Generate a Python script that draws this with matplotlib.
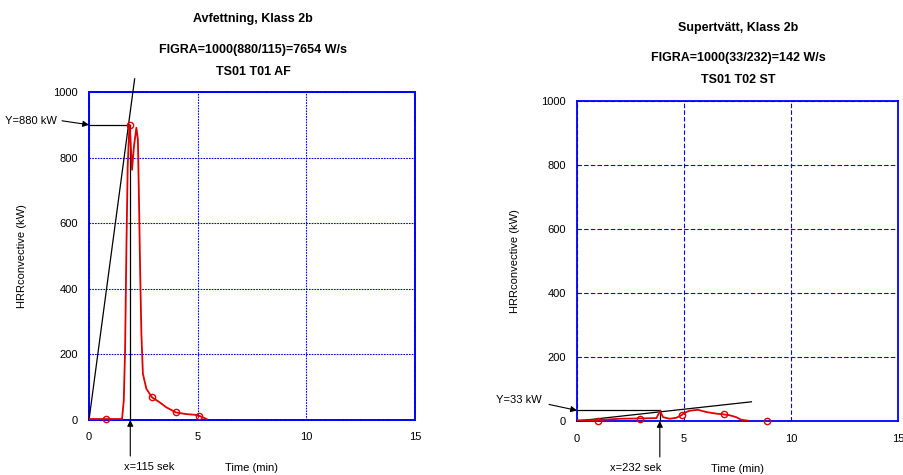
import matplotlib
matplotlib.use("Agg")
import matplotlib.pyplot as plt

plt.rcParams['font.family'] = ['Liberation Sans', 'DejaVu Sans']

# ---------------- data ----------------
# Left: Avfettning
left_t = [0.0, 0.5, 1.0, 1.52, 1.60, 1.66, 1.72, 1.78, 1.86, 1.90, 1.98, 2.07, 2.18, 2.25,
          2.30, 2.35, 2.41, 2.48, 2.64, 2.90, 3.25, 3.55, 4.0, 4.47, 4.85, 5.1, 5.41]
left_v = [3, 3, 3, 3, 59, 212, 518, 773, 900, 865, 763, 835, 891, 855,
          671, 467, 263, 141, 95, 69, 54, 39, 23, 18, 16, 12, 3]
left_mt = [0.78, 1.87, 2.90, 4.0, 5.08]
left_mv = [3, 900, 69, 23, 13]
left_peak_t = 1.90
left_peak_v = 900
left_line_end = (2.10, 1040)

# Right: Supertvätt
right_t = [0.0, 0.96, 2.0, 2.9, 3.71, 3.88, 4.02, 4.33, 4.64, 4.88, 5.03, 5.26, 5.65,
           6.04, 6.51, 6.81, 7.13, 7.44, 7.67, 7.98]
right_v = [2, 3, 7, 8, 9, 31, 12, 7, 10, 18, 26, 32, 35,
           28, 23, 21, 18, 12, 4, 1]
right_mt = [0.97, 2.93, 4.90, 6.85, 8.87]
right_mv = [1, 7, 18, 21, 0]
right_peak_t = 3.87
right_peak_v = 33
right_line_end = (8.15, 60)

xticks = [0, 5, 10, 15]
yticks = [0, 200, 400, 600, 800, 1000]

titles = [["Avfettning, Klass 2b", "FIGRA=1000(880/115)=7654 W/s", "TS01 T01 AF"],
          ["Supertvätt, Klass 2b", "FIGRA=1000(33/232)=142 W/s", "TS01 T02 ST"]]
ylabels = ["Y=880 kW", "Y=33 kW"]
xlabels = ["x=115 sek", "x=232 sek"]

W, H = 904, 475
fig = plt.figure(figsize=(W / 100, H / 100), dpi=100)

BLUE = '#0000FF'
RED = '#E00000'

def px_axes(l, r, t, b):
    return [l / W, 1 - b / H, (r - l) / W, (b - t) / H]

axL = fig.add_axes(px_axes(89, 415, 92, 420))
axR = fig.add_axes(px_axes(577, 898, 101, 421))


def style(ax, dotted):
    ax.set_xlim(0, 15)
    ax.set_ylim(0, 1000)
    ax.set_xticks(xticks)
    ax.set_yticks(yticks)
    ax.tick_params(length=0, labelsize=8)
    ax.tick_params(axis='x', pad=9)
    ax.tick_params(axis='y', pad=8)
    if dotted:
        ls_grid = (0, (1.5, 1))
        ls_sp = (0, (1.5, 0.8))
        lw_sp = 1.4
    else:
        ls_grid = (0, (4, 2))
        ls_sp = '-'
        lw_sp = 1.3
    ax.grid(True, color=BLUE, linestyle=ls_grid, linewidth=0.8)
    for s in ax.spines.values():
        s.set_color(BLUE)
        s.set_linestyle(ls_sp)
        s.set_linewidth(lw_sp)
    ax.set_xlabel("Time (min)", fontsize=8)
    ax.set_ylabel("HRRconvective (kW)", fontsize=8)


style(axL, True)
style(axR, False)
axL.yaxis.set_label_coords(-0.19, 0.5)
axR.yaxis.set_label_coords(-0.178, 0.5)
axL.xaxis.set_label_coords(0.5, -0.13)
axR.xaxis.set_label_coords(0.5, -0.133)

arrow_kw = dict(arrowstyle='-|>', color='black', lw=0.8, mutation_scale=9,
                shrinkA=0, shrinkB=0)


def draw_panel(ax, t, v, mt, mv, pt, pv, lend, ylab, xlab, yarrow, xtext_dx, xtext_ha,
               ylab_dx, ylab_dy):
    ax.plot(t, v, color=RED, lw=1.3, zorder=4)
    ax.plot(mt, mv, linestyle='none', marker='o', ms=4.5, mfc='none', mec=RED, mew=1.0,
            zorder=5, clip_on=False)
    # FIGRA lines
    ax.plot([0, lend[0]], [0, lend[1]], color='black', lw=0.9, zorder=3, clip_on=False)
    ax.plot([0, pt], [pv, pv], color='black', lw=0.9, zorder=3)
    ax.plot([pt, pt], [0, pv], color='black', lw=0.9, zorder=3)
    # horizontal arrow + label
    ax.annotate('', xy=(0, pv), xycoords='data',
                xytext=(yarrow[0], yarrow[1]), textcoords='offset pixels',
                arrowprops=arrow_kw, annotation_clip=False)
    ax.annotate(ylab, xy=(0, pv), xycoords='data',
                xytext=(ylab_dx, ylab_dy), textcoords='offset pixels',
                ha='right', va='center', fontsize=8, annotation_clip=False)
    # vertical arrow + label
    ax.annotate('', xy=(pt, 0), xycoords='data',
                xytext=(0, -36), textcoords='offset pixels',
                arrowprops=arrow_kw, annotation_clip=False)
    ax.annotate(xlab, xy=(pt, 0), xycoords='data',
                xytext=(xtext_dx, -47), textcoords='offset pixels',
                ha=xtext_ha, va='center', fontsize=8, annotation_clip=False)


draw_panel(axL, left_t, left_v, left_mt, left_mv, left_peak_t, left_peak_v, left_line_end,
           ylabels[0], xlabels[0], (-27, 4), -6, 'left', -32, 4)
draw_panel(axR, right_t, right_v, right_mt, right_mv, right_peak_t, right_peak_v,
           right_line_end, ylabels[1], xlabels[1], (-28, 6), 2, 'right', -35, 10)

# titles
for cx, ys, tt in [(253, (19, 50, 72), titles[0]), (738, (28, 58, 80), titles[1])]:
    for y, s in zip(ys, tt):
        fig.text(cx / W, 1 - y / H, s, ha='center', va='center', fontsize=9,
                 fontweight='bold')

fig.savefig("out.png", dpi=100)
